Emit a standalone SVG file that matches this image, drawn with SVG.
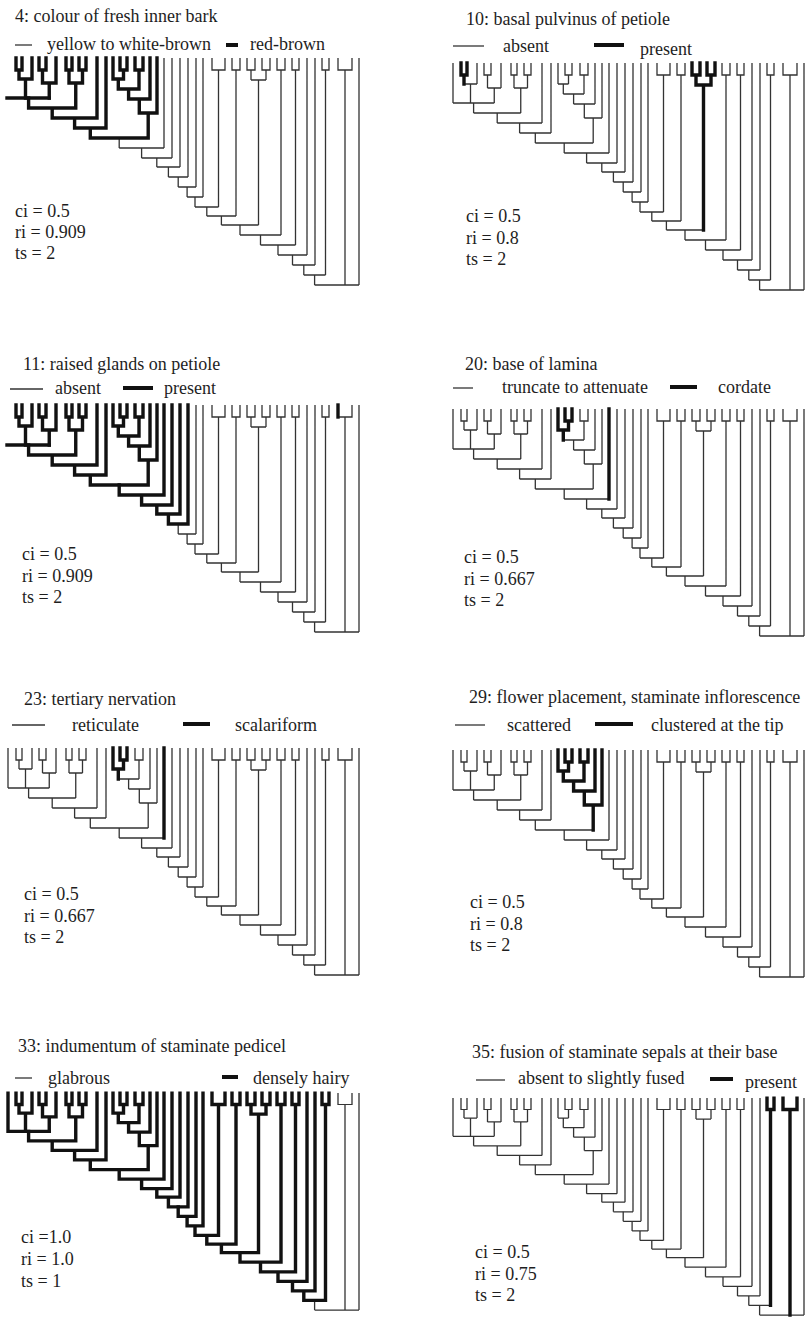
<svg xmlns="http://www.w3.org/2000/svg" xmlns:xlink="http://www.w3.org/1999/xlink" width="808" height="1320" viewBox="0 0 808 1320">
<style>
.t{font-family:'Liberation Serif','Times New Roman',serif;font-size:18px;fill:#1e1e1e}
.thin{fill:none;stroke:#333;stroke-width:1.3}
.thick{fill:none;stroke:#111;stroke-width:3.4;stroke-linecap:square}
.lg{stroke:#333;stroke-width:1.3}
.lk{stroke:#111;stroke-width:4}
</style>
<defs>
<path id="sAc" d="M461 63V75H467V63M464 75V84M477 63V84M464 84H477M470.5 84V103M484 63V75H491V63M487.5 75V88M501 63V88M487.5 88H501M494.25 88V103M473.6 103V113M511 63V75H517V63M514 75V88M524 63V75H531V63M527.5 75V88M514 88H527.5M520.75 88V113M473.6 113H520.75M497.2 113V123M542 63V123M497.2 123H542M519.6 123V133M551 63V133M519.6 133H551M535.3 133V143M558 63V84M565 63V75H572V63M568.5 75V84M558 84H568.5M563.3 84V94M580 63V75H588V63M584 75V94M563.3 94H584M573.6 94V104M595 63V104M573.6 104H595M584.3 104V118M602 63V118M584.3 118H602M593.2 118V143M535.3 143H593.2"/>
<path id="t1" d="M453 63V103M453 103H494.25"/>
<path id="t1s" d="M452 103H494.25"/>
<path id="sB" d="M564.2 143V153M609 63V153M564.2 153H609M586.6 153V163M617 63V163M586.6 163H617M601.8 163V172M625 63V172M601.8 172H625M613.4 172V182M633 63V182M613.4 182H633"/>
<path id="sC1" d="M623.2 182V192M641 63V192M623.2 192H641M632.1 192V202M648 63V202M632.1 202H648M640 202V212M657 63V75H670V63M663.5 75V212M640 212H663.5M651.8 212V221M677 63V75H685V63M681 75V221M651.8 221H681M666.4 221V230M692 63V75H700V63M696 75V85M707 63V75H715V63M711 75V85M696 85H711M703.5 85V230M666.4 230H703.5M685 230V240M722 63V75H730V63M726 75V240M685 240H726M705.5 240V250M737 63V75H744V63M740.5 75V250M705.5 250H740.5M723 250V260M752 63V260M723 260H752M737.5 260V270M760 63V270M737.5 270H760M748.8 270V280M767 63V75H774V63M770.5 75V280M748.8 280H770.5"/>
<path id="sC2" d="M759.6 280V290M783 63V75H797V63M790 75V290M804 63V290M759.6 290H804"/>
<g id="rest"><use xlink:href="#sAc"/><use xlink:href="#sB"/><use xlink:href="#sC1"/><use xlink:href="#sC2"/></g>
<g id="tree"><use xlink:href="#rest"/><use xlink:href="#t1"/></g>
<g id="treeL"><use xlink:href="#rest"/><use xlink:href="#t1s"/></g>
<path id="hiTL" d="M558 63V84M565 63V75H572V63M568.5 75V84M558 84H568.5M563.3 84V94M609 63V153"/>
<path id="hiW" d="M558 63V84M565 63V75H572V63M568.5 75V84M558 84H568.5M563.3 84V94M580 63V75H588V63M584 75V94M563.3 94H584M573.6 94V104M595 63V104M573.6 104H595M584.3 104V118M602 63V118M584.3 118H602M593.2 118V143"/>
</defs>

<g id="panel-4">
<text class="t" x="15" y="22">4: colour of fresh inner bark</text>
<line class="lg" x1="15" y1="45" x2="32" y2="45"/>
<text class="t" x="47" y="50">yellow to white-brown</text>
<line class="lk" x1="226" y1="45" x2="238" y2="45"/>
<text class="t" x="250" y="50">red-brown</text>
<text class="t" x="15" y="217">ci = 0.5</text>
<text class="t" x="15" y="238">ri = 0.909</text>
<text class="t" x="15" y="259">ts = 2</text>
<g transform="translate(-445,-5)">
<use class="thin" xlink:href="#treeL"/>
<use class="thick" xlink:href="#sAc"/>
<use class="thick" xlink:href="#t1s"/>
</g>
</g>

<g id="panel-10">
<text class="t" x="466" y="25">10: basal pulvinus of petiole</text>
<line class="lg" x1="453" y1="46" x2="484" y2="46"/>
<text class="t" x="503" y="52">absent</text>
<line class="lk" x1="594" y1="45" x2="624" y2="45"/>
<text class="t" x="640" y="55">present</text>
<text class="t" x="466" y="222">ci = 0.5</text>
<text class="t" x="466" y="244">ri = 0.8</text>
<text class="t" x="466" y="265">ts = 2</text>
<g>
<use class="thin" xlink:href="#tree"/>
<path class="thick" d="M461 63V75H467V63M464 75V84M692 63V75H700V63M696 75V85M707 63V75H715V63M711 75V85M696 85H711M703.5 85V230"/>
</g>
</g>

<g id="panel-11">
<text class="t" x="23" y="370">11: raised glands on petiole</text>
<line class="lg" x1="10" y1="389" x2="43" y2="389"/>
<text class="t" x="55" y="394">absent</text>
<line class="lk" x1="123" y1="388" x2="153" y2="388"/>
<text class="t" x="164" y="394">present</text>
<text class="t" x="22" y="560">ci = 0.5</text>
<text class="t" x="22" y="582">ri = 0.909</text>
<text class="t" x="22" y="603">ts = 2</text>
<g transform="translate(-445,342)">
<use class="thin" xlink:href="#treeL"/>
<use class="thick" xlink:href="#sAc"/>
<use class="thick" xlink:href="#t1s"/>
<use class="thick" xlink:href="#sB"/>
<path class="thick" d="M783 63V75"/>
</g>
</g>

<g id="panel-20">
<text class="t" x="465" y="370">20: base of lamina</text>
<line class="lg" x1="453" y1="388" x2="473" y2="388"/>
<text class="t" x="502" y="393">truncate to attenuate</text>
<line class="lk" x1="670" y1="387" x2="697" y2="387"/>
<text class="t" x="718" y="393">cordate</text>
<text class="t" x="464" y="563">ci = 0.5</text>
<text class="t" x="464" y="585">ri = 0.667</text>
<text class="t" x="464" y="606">ts = 2</text>
<g transform="translate(0,346)">
<use class="thin" xlink:href="#tree"/>
<use class="thick" xlink:href="#hiTL"/>
</g>
</g>

<g id="panel-23">
<text class="t" x="24" y="705">23: tertiary nervation</text>
<line class="lg" x1="12" y1="725" x2="45" y2="725"/>
<text class="t" x="72" y="731">reticulate</text>
<line class="lk" x1="183" y1="724" x2="210" y2="724"/>
<text class="t" x="235" y="731">scalariform</text>
<text class="t" x="24" y="900">ci = 0.5</text>
<text class="t" x="24" y="922">ri = 0.667</text>
<text class="t" x="24" y="943">ts = 2</text>
<g transform="translate(-445,685)">
<use class="thin" xlink:href="#tree"/>
<use class="thick" xlink:href="#hiTL"/>
</g>
</g>

<g id="panel-29">
<text class="t" x="469" y="703">29: flower placement, staminate inflorescence</text>
<line class="lg" x1="455" y1="725" x2="485" y2="725"/>
<text class="t" x="507" y="731">scattered</text>
<line class="lk" x1="595" y1="724" x2="633" y2="724"/>
<text class="t" x="651" y="731">clustered at the tip</text>
<text class="t" x="470" y="908">ci = 0.5</text>
<text class="t" x="470" y="930">ri = 0.8</text>
<text class="t" x="470" y="951">ts = 2</text>
<g transform="translate(0,687)">
<use class="thin" xlink:href="#tree"/>
<use class="thick" xlink:href="#hiW"/>
</g>
</g>

<g id="panel-33">
<text class="t" x="18" y="1052">33: indumentum of staminate pedicel</text>
<line class="lg" x1="15" y1="1078" x2="32" y2="1078"/>
<text class="t" x="48" y="1084">glabrous</text>
<line class="lk" x1="222" y1="1077" x2="238" y2="1077"/>
<text class="t" x="253" y="1084">densely hairy</text>
<text class="t" x="21" y="1243">ci =1.0</text>
<text class="t" x="21" y="1265">ri = 1.0</text>
<text class="t" x="21" y="1287">ts = 1</text>
<g transform="matrix(1 0 0 0.956 -445 1032.8)">
<use class="thin" xlink:href="#tree"/>
<use class="thick" xlink:href="#sAc"/>
<use class="thick" xlink:href="#t1"/>
<use class="thick" xlink:href="#sB"/>
<use class="thick" xlink:href="#sC1"/>
</g>
</g>

<g id="panel-35">
<text class="t" x="472" y="1058">35: fusion of staminate sepals at their base</text>
<line class="lg" x1="476" y1="1080" x2="505" y2="1080"/>
<text class="t" x="518" y="1084">absent to slightly fused</text>
<line class="lk" x1="710" y1="1079" x2="733" y2="1079"/>
<text class="t" x="745" y="1088">present</text>
<text class="t" x="475" y="1258">ci = 0.5</text>
<text class="t" x="475" y="1280">ri = 0.75</text>
<text class="t" x="475" y="1301">ts = 2</text>
<g transform="matrix(1 0 0 0.956 0 1037.8)">
<use class="thin" xlink:href="#tree"/>
<path class="thick" d="M767 63V75H774V63M770.5 75V280M783 63V75H797V63M790 75V290"/>
</g>
</g>
</svg>
